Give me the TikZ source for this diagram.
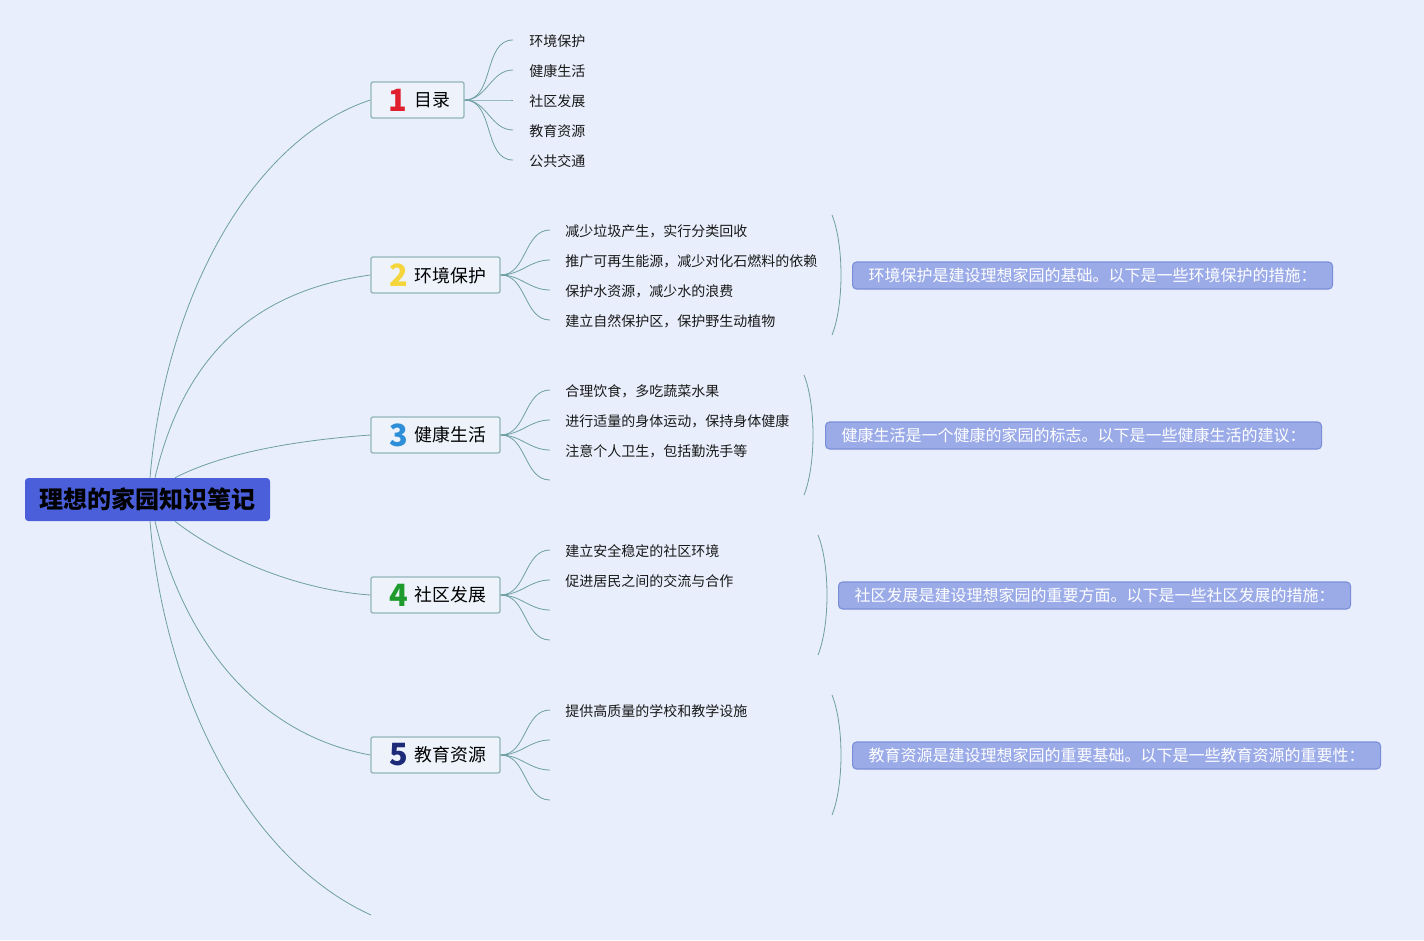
\documentclass[tikz,border=0pt]{standalone}
\usepackage{fontspec}
\setmainfont{Noto Sans CJK SC}
\usetikzlibrary{calc}
\definecolor{bg}{HTML}{E8EEFB}
\definecolor{rootblue}{HTML}{4A5FD9}
\definecolor{topicborder}{HTML}{92B6BA}
\definecolor{topicfill}{HTML}{EDF2FB}
\definecolor{linkc}{HTML}{6E9FA2}
\definecolor{sumfill}{HTML}{9BABE8}
\definecolor{sumborder}{HTML}{7A8ED8}
\definecolor{cone}{HTML}{E0202E}
\definecolor{ctwo}{HTML}{F4D53C}
\definecolor{cthree}{HTML}{2E8FD8}
\definecolor{cfour}{HTML}{1F9A2C}
\definecolor{cfive}{HTML}{1C2A78}
\newcommand{\topicnum}[3]{\hspace{3pt}{\color{#1}\fontsize{23pt}{23pt}\selectfont\bfseries #2}\hspace{5pt}\raisebox{3.2pt}{#3}}
\begin{document}
\begin{tikzpicture}[x=0.75pt,y=-0.75pt,
  rootbox/.style={fill=rootblue, rounded corners=2.5pt, minimum width=183.75pt, minimum height=32.25pt, inner sep=0pt, font=\fontsize{18pt}{20pt}\selectfont\bfseries, text=black},
  topicbox/.style={draw=topicborder, fill=topicfill, line width=1pt, rounded corners=1.5pt, minimum height=27pt, inner sep=0pt, font=\fontsize{13.4pt}{15pt}\selectfont},
  childtext/.style={anchor=west, inner sep=0pt, font=\fontsize{10.5pt}{12pt}\selectfont, text=black!90},
  sumbox/.style={anchor=west, fill=sumfill, draw=sumborder, line width=0.8pt, rounded corners=3pt, minimum height=20.25pt, inner xsep=12pt, inner ysep=0pt, text=white, font=\fontsize{12pt}{13pt}\selectfont},
  link/.style={draw=linkc, line width=0.6pt}
]
\fill[bg] (0,0) rectangle (1424,940);
\useasboundingbox (0,0) rectangle (1424,940);

% root
\node[rootbox] (root) at (147.5,499.5) {\raisebox{-1.5pt}{理想的家园知识笔记}};

% topics
\node[topicbox, minimum width=69.75pt] (t1) at (417.5,100) {\topicnum{cone}{1}{目录}};
\node[topicbox, minimum width=96.75pt] (t2) at (435.5,275) {\topicnum{ctwo}{2}{环境保护}};
\node[topicbox, minimum width=96.75pt] (t3) at (435.5,435) {\topicnum{cthree}{3}{健康生活}};
\node[topicbox, minimum width=96.75pt] (t4) at (435.5,595) {\topicnum{cfour}{4}{社区发展}};
\node[topicbox, minimum width=96.75pt] (t5) at (435.5,755) {\topicnum{cfive}{5}{教育资源}};
\coordinate (t6) at (371,915);

% root links
\draw[link] ($(root.north)+(2.5,0)$) .. controls (165,300) and (250,140) .. (t1.west);
\draw[link] ($(root.north)+(7.5,0)$) .. controls (185,350) and (260,290) .. (t2.west);
\draw[link] ($(root.north)+(27.5,0)$) .. controls (225,452) and (300,440) .. (t3.west);
\draw[link] ($(root.south)+(27.5,0)$) .. controls (225,560) and (300,590) .. (t4.west);
\draw[link] ($(root.south)+(7.5,0)$) .. controls (185,645) and (260,735) .. (t5.west);
\draw[link] ($(root.south)+(2.5,0)$) .. controls (165,700) and (250,860) .. (t6);

% topic 1 children
\foreach \i/\yy/\txt in {a/40/环境保护, b/70/健康生活, c/100/社区发展, d/130/教育资源, e/160/公共交通}{
  \coordinate (c1\i) at (513,\yy);
  \draw[link] (t1.east) to[out=0,in=180] (c1\i);
  \node[childtext] (n1\i) at (529,\yy+1) {\txt};
}

% topic 2 children
\foreach \i/\yy/\txt in {a/230/减少垃圾产生，实行分类回收, b/260/推广可再生能源，减少对化石燃料的依赖, c/290/保护水资源，减少水的浪费, d/320/建立自然保护区，保护野生动植物}{
  \coordinate (c2\i) at (550,\yy);
  \draw[link] (t2.east) to[out=0,in=180] (c2\i);
  \node[childtext] (n2\i) at (565,\yy+1) {\txt};
}

% topic 3 children
\foreach \i/\yy/\txt in {a/390/合理饮食，多吃蔬菜水果, b/420/进行适量的身体运动，保持身体健康, c/450/注意个人卫生，包括勤洗手等}{
  \coordinate (c3\i) at (550,\yy);
  \draw[link] (t3.east) to[out=0,in=180] (c3\i);
  \node[childtext] (n3\i) at (565,\yy+1) {\txt};
}
\coordinate (c3d) at (550,480);
\draw[link] (t3.east) to[out=0,in=180] (c3d);

% topic 4 children
\foreach \i/\yy/\txt in {a/550/建立安全稳定的社区环境, b/580/促进居民之间的交流与合作}{
  \coordinate (c4\i) at (550,\yy);
  \draw[link] (t4.east) to[out=0,in=180] (c4\i);
  \node[childtext] (n4\i) at (565,\yy+1) {\txt};
}
\foreach \i/\yy in {c/610, d/640}{
  \coordinate (c4\i) at (550,\yy);
  \draw[link] (t4.east) to[out=0,in=180] (c4\i);
}

% topic 5 children
\coordinate (c5a) at (550,710);
\draw[link] (t5.east) to[out=0,in=180] (c5a);
\node[childtext] (n5a) at (565,711) {提供高质量的学校和教学设施};
\foreach \i/\yy in {b/740, c/770, d/800}{
  \coordinate (c5\i) at (550,\yy);
  \draw[link] (t5.east) to[out=0,in=180] (c5\i);
}

% summary brackets
\coordinate (b2t) at (832,215); \coordinate (b2b) at (832,335);
\coordinate (b3t) at (804,375); \coordinate (b3b) at (804,495);
\coordinate (b4t) at (818,535); \coordinate (b4b) at (818,655);
\coordinate (b5t) at (832,695); \coordinate (b5b) at (832,815);
\draw[link] (b2t) .. controls ($(b2t)+(12,30)$) and ($(b2b)+(12,-30)$) .. (b2b);
\draw[link] (b3t) .. controls ($(b3t)+(12,30)$) and ($(b3b)+(12,-30)$) .. (b3b);
\draw[link] (b4t) .. controls ($(b4t)+(12,30)$) and ($(b4b)+(12,-30)$) .. (b4b);
\draw[link] (b5t) .. controls ($(b5t)+(12,30)$) and ($(b5b)+(12,-30)$) .. (b5b);

% summaries
\node[sumbox] (s2) at (852,275.5) {环境保护是建设理想家园的基础。以下是一些环境保护的措施：};
\node[sumbox] (s3) at (825,435.5) {健康生活是一个健康的家园的标志。以下是一些健康生活的建议：};
\node[sumbox] (s4) at (838,595.5) {社区发展是建设理想家园的重要方面。以下是一些社区发展的措施：};
\node[sumbox] (s5) at (852,755.5) {教育资源是建设理想家园的重要基础。以下是一些教育资源的重要性：};
\end{tikzpicture}
\end{document}
